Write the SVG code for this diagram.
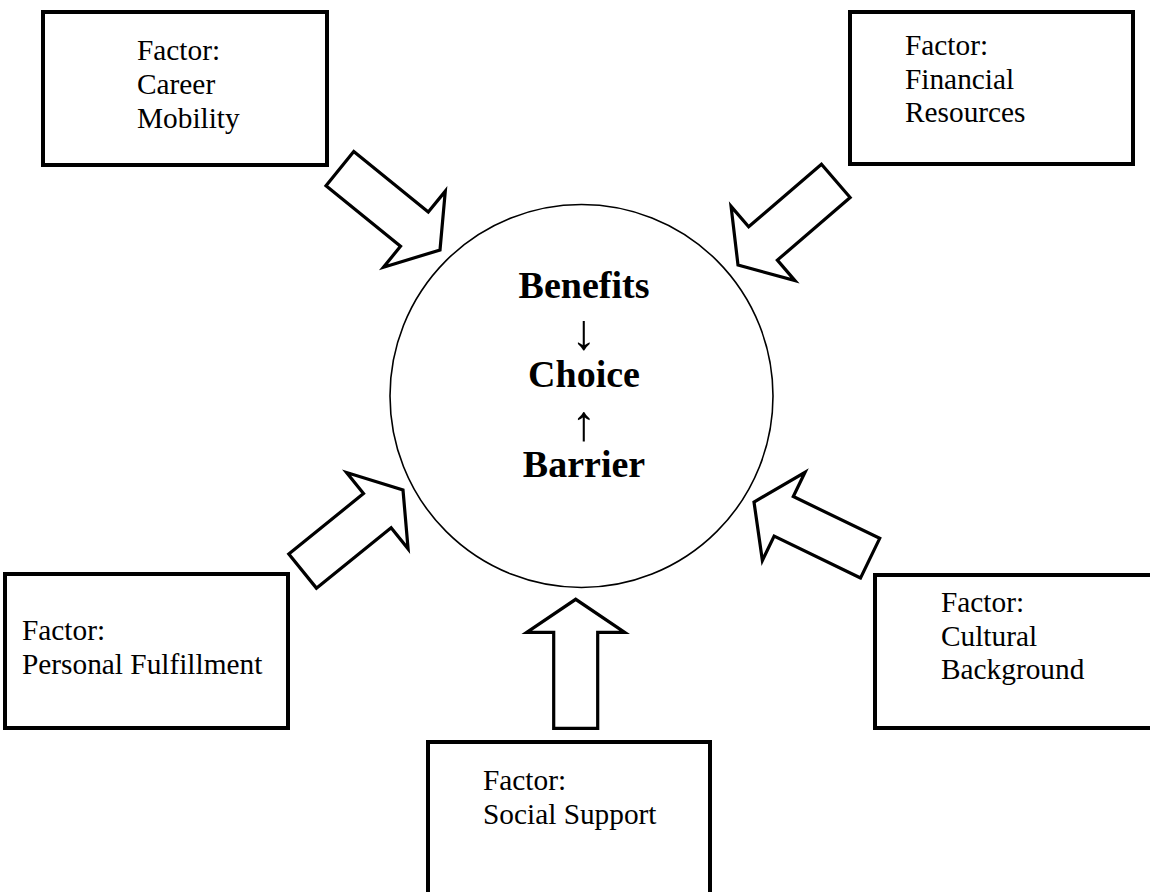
<svg xmlns="http://www.w3.org/2000/svg" width="1150" height="892" viewBox="0 0 1150 892">
<style>
.box{fill:#fff;stroke:#000;stroke-width:4}
.t{font-family:"Liberation Serif","Times New Roman",serif;font-size:29.33px;fill:#000}
.c{font-family:"Liberation Serif","Times New Roman",serif;font-size:38px;font-weight:bold;fill:#000;text-anchor:middle}
.ar{font-family:"Liberation Serif","Times New Roman",serif;font-size:50px;fill:#000;text-anchor:middle}
.blk{fill:#fff;stroke:#000;stroke-width:3.2;stroke-linejoin:miter}
</style>
<defs>
<path id="barrow" d="M-129,-22 L-33,-22 L-33,-49 L0,0 L-33,49 L-33,22 L-129,22 Z"/>
</defs>
<rect width="1150" height="892" fill="#fff"/>
<g id="connectors">
<use href="#barrow" class="blk" transform="translate(440,250) rotate(39.1)"/>
<use href="#barrow" class="blk" transform="translate(738,265) rotate(139.3)"/>
<use href="#barrow" class="blk" transform="translate(403,490) rotate(-38.9)"/>
<use href="#barrow" class="blk" transform="translate(754,502) rotate(-154.2)"/>
<use href="#barrow" class="blk" transform="translate(575.7,599.3) rotate(-90)"/>
</g>
<g id="center">
<circle cx="581.5" cy="396" r="191.5" fill="none" stroke="#000" stroke-width="1.6"/>
<text class="c" x="584" y="298">Benefits</text>
<text class="ar" x="584" y="349">↓</text>
<text class="c" x="584" y="387">Choice</text>
<text class="ar" x="584" y="440">↑</text>
<text class="c" x="584" y="477">Barrier</text>
</g>
<g id="career">
<rect class="box" x="43" y="12" width="284" height="153"/>
<text class="t" x="137" y="60">Factor:</text>
<text class="t" x="137" y="94">Career</text>
<text class="t" x="137" y="128">Mobility</text>
</g>
<g id="financial">
<rect class="box" x="850" y="12" width="283" height="152"/>
<text class="t" x="905" y="55">Factor:</text>
<text class="t" x="905" y="88.5">Financial</text>
<text class="t" x="905" y="122">Resources</text>
</g>
<g id="personal">
<rect class="box" x="5" y="574" width="283" height="154"/>
<text class="t" x="22" y="640">Factor:</text>
<text class="t" x="22" y="673.5">Personal Fulfillment</text>
</g>
<g id="cultural">
<rect class="box" x="875" y="575" width="300" height="153"/>
<text class="t" x="941" y="612">Factor:</text>
<text class="t" x="941" y="645.5">Cultural</text>
<text class="t" x="941" y="679">Background</text>
</g>
<g id="social">
<rect class="box" x="428" y="742" width="282" height="170"/>
<text class="t" x="483" y="790">Factor:</text>
<text class="t" x="483" y="824">Social Support</text>
</g>
</svg>
